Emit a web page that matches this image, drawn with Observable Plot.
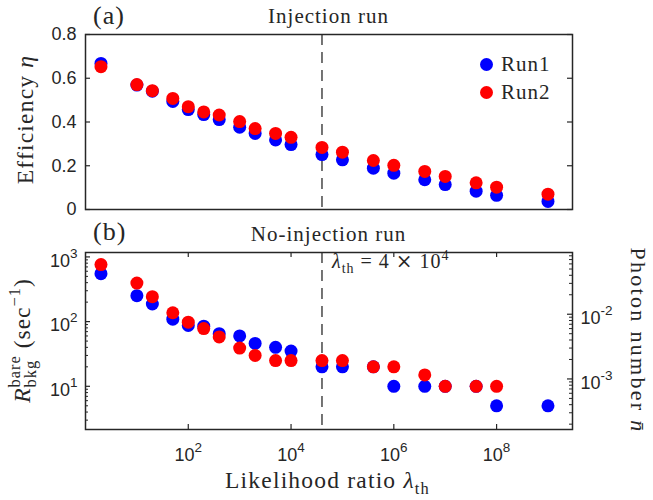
<!DOCTYPE html>
<html><head><meta charset="utf-8">
<script src="https://cdn.jsdelivr.net/npm/d3@7"></script>
<script src="https://cdn.jsdelivr.net/npm/@observablehq/plot@0.6"></script>
<style>
body{margin:0;background:#fff;}
#chart{position:relative;width:653px;height:500px;background:#fff;}
#chart svg{position:absolute;left:0;overflow:visible;}
</style></head><body><div id="chart"></div>
<script>
// ---- data ----
const lambda = [2, 10, 20, 50, 100, 200, 400, 1e3, 2e3, 5e3, 1e4, 4e4, 1e5, 4e5, 1e6, 4e6, 1e7, 4e7, 1e8, 1e9];
const effRun1 = [0.668, 0.569, 0.541, 0.494, 0.457, 0.434, 0.411, 0.376, 0.348, 0.318, 0.297, 0.251, 0.227, 0.189, 0.166, 0.136, 0.114, 0.084, 0.065, 0.037];
const effRun2 = [0.653, 0.571, 0.543, 0.508, 0.470, 0.446, 0.432, 0.402, 0.370, 0.348, 0.330, 0.284, 0.262, 0.224, 0.202, 0.174, 0.151, 0.122, 0.102, 0.070];
const bkgRun1 = [550, 252, 187, 109, 87, 85, 65, 60, 46, 40, 35, 20, 20, 20, 10, 10, 10, 10, 5, 5];
const bkgRun2 = [760, 394, 243, 137, 98, 78, 58, 39, 30, 25, 25, 25, 25, 20, 20, 15, 10, 10, 10, null];
const seriesNames = ["Run1", "Run2"];
const seriesColors = ["#0000ff", "#ff0000"];
const effTicks = [0, 0.2, 0.4, 0.6, 0.8];
const lambdaTicks = [1e2, 1e4, 1e6, 1e8];
const bkgTicks = [1e1, 1e2, 1e3];
const photonTicks = [1e-3, 1e-2];
const photonPerRate = 1 / 13000;   // n̄ = R × this
const lambdaTh = 4e4;
const xDomain = [1, 3e9];
const bkgDomain = [2.15, 1170];

// ---- rows ----
const effRows = [], bkgRows = [];
[effRun1, effRun2].forEach((s, k) => s.forEach((v, i) => { if (v != null) effRows.push({lambda: lambda[i], value: v, run: seriesNames[k]}); }));
[bkgRun1, bkgRun2].forEach((s, k) => s.forEach((v, i) => { if (v != null) bkgRows.push({lambda: lambda[i], value: v, run: seriesNames[k]}); }));

const minorOf = (decades, lo, hi) => decades.flatMap(d => [2,3,4,5,6,7,8,9].map(k => k * d)).filter(v => v > lo && v < hi);
const bkgMinor = minorOf([1, 10, 100], bkgDomain[0], bkgDomain[1]);
const photonMinorR = minorOf([1e-4, 1e-3, 1e-2], bkgDomain[0] * photonPerRate, bkgDomain[1] * photonPerRate * 0.999).map(p => p / photonPerRate);
const photonTicksR = photonTicks.map(p => p / photonPerRate);

// ---- layout ----
const W = 653, ML = 85, MR = 81;
const innerW = W - ML - MR;
const H1 = 222, MT1 = 34, MB1 = 13, innerH1 = H1 - MT1 - MB1;
const H2 = 278, MT2 = 30, MB2 = 71, innerH2 = H2 - MT2 - MB2;
const ink = "#262626";
const SERIF = "'Liberation Serif', 'Times New Roman', serif";
const SANS = "'Liberation Sans', Arial, sans-serif";
const style = {fontFamily: SANS, fontSize: "18px", color: ink, background: "transparent", overflow: "visible"};
const exp10 = v => "10^" + Math.round(Math.log10(v));

const plotTop = Plot.plot({
  width: W, height: H1, marginLeft: ML, marginRight: MR, marginTop: MT1, marginBottom: MB1,
  style,
  x: {type: "log", domain: xDomain, axis: null},
  y: {domain: [0, 0.8], axis: null},
  color: {domain: seriesNames, range: seriesColors},
  marks: [
    Plot.ruleX([lambdaTh], {x: d => d, stroke: "#3a3a3a", strokeWidth: 1.4, strokeDasharray: "11,7"}),
    Plot.dot(effRows, {x: "lambda", y: "value", fill: "run", r: 6.5}),
    Plot.tickY(effTicks, {y: d => d, stroke: ink, strokeWidth: 1.2, insetRight: innerW - 5}),
    Plot.tickY(effTicks, {y: d => d, stroke: ink, strokeWidth: 1.2, insetLeft: innerW - 5}),
    Plot.axisY({ticks: effTicks, tickSize: 0, tickPadding: 9, label: null, tickFormat: d => d === 0 ? "0" : d3.format(".1f")(d)}),
    Plot.dot([seriesNames[0]], {frameAnchor: "top-left", dx: 401, dy: 30, r: 6.5, fill: seriesColors[0]}),
    Plot.dot([seriesNames[1]], {frameAnchor: "top-left", dx: 401, dy: 58, r: 6.5, fill: seriesColors[1]}),
    Plot.frame({stroke: ink, strokeWidth: 1.5})
  ]
});

const plotBot = Plot.plot({
  width: W, height: H2, marginLeft: ML, marginRight: MR, marginTop: MT2, marginBottom: MB2,
  style,
  x: {type: "log", domain: xDomain, axis: null},
  y: {type: "log", domain: bkgDomain, axis: null},
  color: {domain: seriesNames, range: seriesColors},
  marks: [
    Plot.ruleX([lambdaTh], {x: d => d, stroke: "#3a3a3a", strokeWidth: 1.4, strokeDasharray: "11,7"}),
    Plot.dot(bkgRows, {x: "lambda", y: "value", fill: "run", r: 6.5}),
    Plot.tickX(lambdaTicks, {x: d => d, stroke: ink, strokeWidth: 1.2, insetTop: innerH2 - 5}),
    Plot.tickX(lambdaTicks, {x: d => d, stroke: ink, strokeWidth: 1.2, insetBottom: innerH2 - 5}),
    Plot.tickY(bkgTicks, {y: d => d, stroke: ink, strokeWidth: 1.2, insetRight: innerW - 5}),
    Plot.tickY(bkgMinor, {y: d => d, stroke: ink, strokeWidth: 1, insetRight: innerW - 3}),
    Plot.tickY(photonTicksR, {y: d => d, stroke: ink, strokeWidth: 1.2, insetLeft: innerW - 5}),
    Plot.tickY(photonMinorR, {y: d => d, stroke: ink, strokeWidth: 1, insetLeft: innerW - 3}),
    Plot.axisX({ticks: lambdaTicks, tickSize: 0, tickPadding: 19, label: null, tickFormat: exp10}),
    Plot.axisY({ticks: bkgTicks, tickSize: 0, tickPadding: 8, label: null, tickFormat: exp10}),
    Plot.axisY({anchor: "right", ticks: photonTicksR, tickSize: 0, tickPadding: 8, label: null, tickFormat: d => exp10(d * photonPerRate)}),
    Plot.frame({stroke: ink, strokeWidth: 1.5})
  ]
});

const chart = document.getElementById("chart");
plotTop.style.top = "0px";
plotBot.style.top = H1 + "px";
chart.appendChild(plotTop);
chart.appendChild(plotBot);

// superscripts in tick labels
function superscriptTicks(svg) {
  d3.select(svg).selectAll("g[aria-label$='tick label'] text").each(function () {
    const m = /^10\^(-?\d+)$/.exec(this.textContent);
    if (!m) return;
    const isY = this.parentNode.getAttribute("aria-label").startsWith("y");
    const t = d3.select(this);
    t.text("10");
    t.append("tspan").attr("dy", -9).attr("font-size", 13.5).text(m[1]);
    if (isY) t.attr("transform", (t.attr("transform") || "") + " translate(0,4)");
  });
}
superscriptTicks(plotTop);
superscriptTicks(plotBot);

// rich text helper
function rich(svg, o, parts) {
  const size = o.size;
  const t = d3.select(svg).append("text")
    .attr("transform", `translate(${o.x},${o.y}) rotate(${o.rotate || 0})`)
    .attr("text-anchor", o.anchor || "start")
    .attr("font-family", o.family || SERIF)
    .attr("font-size", size)
    .attr("letter-spacing", o.ls || 0)
    .attr("fill", ink);
  let shift = 0, lastLen = 0, supLen = 0, subLen = 0, pendingDx = 0;
  for (const p of parts) {
    const s = t.append("tspan").text(p.t);
    const target = p.sup ? -size * 0.42 : p.sub ? size * 0.25 : 0;
    if (target !== shift) { s.attr("dy", target - shift); shift = target; }
    if (p.sup || p.sub) s.attr("font-size", size * 0.7);
    if (p.it) s.attr("font-style", "italic");
    if (p.family) s.attr("font-family", p.family);
    if (p.back) { s.attr("dx", -lastLen); }
    else if (pendingDx) { s.attr("dx", pendingDx); pendingDx = 0; }
    const len = s.node().getComputedTextLength();
    if (p.back) { subLen = len; supLen = lastLen; pendingDx = Math.max(0, supLen - subLen); }
    lastLen = len;
  }
  return t;
}

const xs = plotBot.scale("x");
const cx = ML + innerW / 2;

// top panel texts
rich(plotTop, {x: 93, y: 24, size: 26, ls: 1}, [{t: "(a)"}]);
rich(plotTop, {x: cx, y: 23, size: 21, ls: 1, anchor: "middle"}, [{t: "Injection run"}]);
rich(plotTop, {x: 33, y: MT1 + innerH1 / 2 - 2, size: 23.5, ls: 1.2, anchor: "middle", rotate: -90}, [{t: "Efficiency "}, {t: "η", it: true}]);
rich(plotTop, {x: ML + 416, y: MT1 + 30 + 7, size: 21, ls: 1}, [{t: seriesNames[0]}]);
rich(plotTop, {x: ML + 416, y: MT1 + 58 + 7, size: 21, ls: 1}, [{t: seriesNames[1]}]);

// bottom panel texts
rich(plotBot, {x: 93, y: 18, size: 26, ls: 1}, [{t: "(b)"}]);
rich(plotBot, {x: cx, y: 18.5, size: 21, ls: 1, anchor: "middle"}, [{t: "No-injection run"}]);
rich(plotBot, {x: xs.apply(lambdaTh) + 10.5, y: 46, size: 20, ls: 1},
  [{t: "λ", it: true}, {t: "th", sub: true}, {t: " = 4 "}, {t: "×", family: "'DejaVu Serif', serif"}, {t: " 10"}, {t: "4", sup: true}]);
rich(plotBot, {x: cx - 1, y: 266, size: 23.5, ls: 1.2, anchor: "middle"}, [{t: "Likelihood ratio "}, {t: "λ", it: true}, {t: "th", sub: true}]);
rich(plotBot, {x: 30, y: MT2 + innerH2 / 2, size: 23.5, ls: 1, anchor: "middle", rotate: -90}, [{t: "R", it: true}, {t: "bare", sup: true}, {t: "bkg", sub: true, back: true}, {t: " (sec"}, {t: "−1", sup: true}, {t: ")"}]);
rich(plotBot, {x: 631, y: MT2 + innerH2 / 2, size: 22, ls: 2.3, anchor: "middle", rotate: 90}, [{t: "Photon number "}, {t: "n\u0304", it: true}]);
</script></body></html>
